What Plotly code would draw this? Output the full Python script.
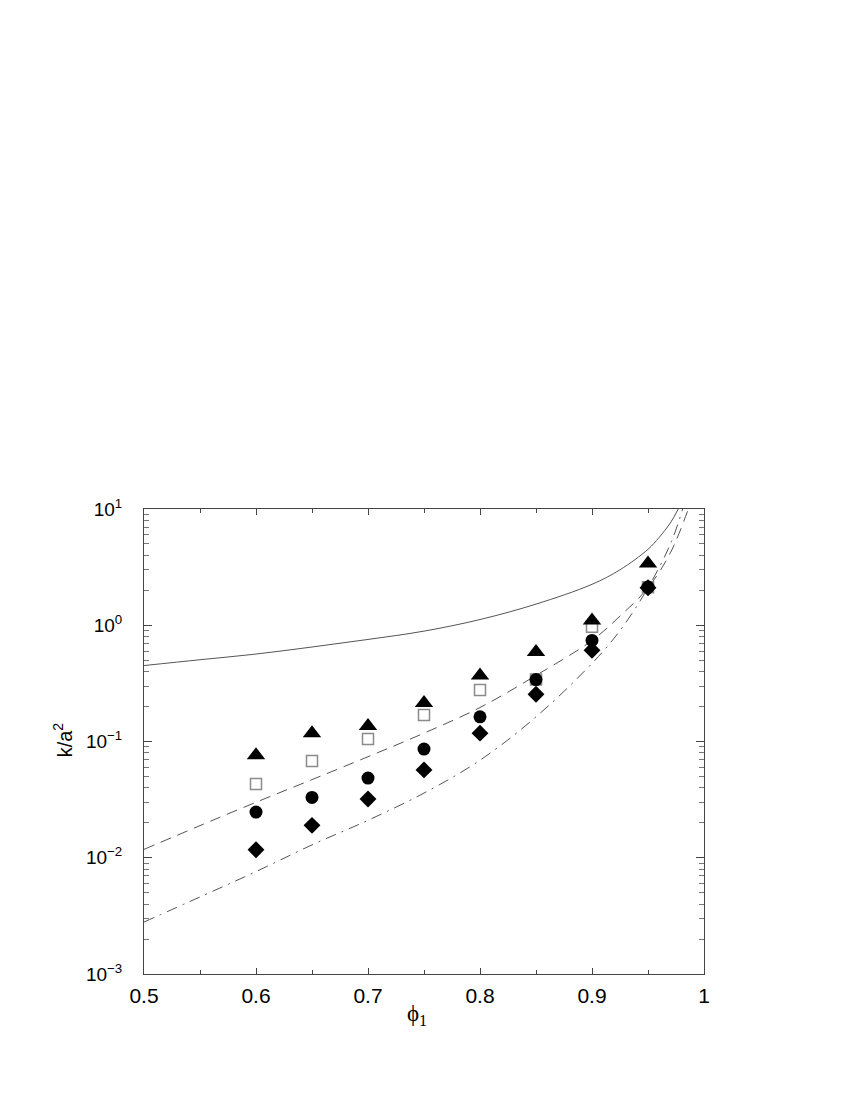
import plotly.graph_objects as go

# ---- data ----
phi_pts = [0.6, 0.65, 0.7, 0.75, 0.8, 0.85, 0.9, 0.95]
k_triangle = [0.076, 0.118, 0.136, 0.214, 0.37, 0.59, 1.10, 3.39]
k_square = [0.043, 0.068, 0.105, 0.169, 0.277, 0.341, 0.97, 2.12]
k_circle = [0.0247, 0.033, 0.0485, 0.086, 0.163, 0.341, 0.74, 2.13]
k_diamond = [0.0117, 0.019, 0.032, 0.057, 0.118, 0.255, 0.61, 2.10]

phi_solid = [0.5, 0.55, 0.6, 0.65, 0.7, 0.75, 0.8, 0.85, 0.9, 0.925, 0.95, 0.96, 0.97, 0.977]
k_solid = [0.45, 0.505, 0.565, 0.65, 0.755, 0.89, 1.12, 1.52, 2.25, 3.0, 4.5, 5.7, 7.6, 10.0]

phi_dash = [0.5, 0.55, 0.6, 0.65, 0.7, 0.75, 0.8, 0.85, 0.9, 0.925, 0.95, 0.97, 0.986]
k_dash = [0.0118, 0.0189, 0.030, 0.047, 0.074, 0.118, 0.196, 0.37, 0.74, 1.2, 2.1, 4.2, 10.0]

phi_dashdot = [0.5, 0.55, 0.6, 0.65, 0.7, 0.75, 0.8, 0.85, 0.9, 0.925, 0.95, 0.97, 0.981]
k_dashdot = [0.0028, 0.0046, 0.0076, 0.0129, 0.021, 0.036, 0.069, 0.163, 0.47, 0.9, 2.1, 5.0, 10.0]

x_ticks = [0.5, 0.6, 0.7, 0.8, 0.9, 1.0]
x_ticktext = ["0.5", "0.6", "0.7", "0.8", "0.9", "1"]
y_ticks = [1e-3, 1e-2, 1e-1, 1e0, 1e1]
y_ticktext = ["10<sup>−3</sup>", "10<sup>−2</sup>", "10<sup>−1</sup>", "10<sup>0</sup>", "10<sup>1</sup>"]
y_minor = [m * 10 ** e for e in (-3, -2, -1, 0) for m in range(2, 10)]

LINE_COL = "#555555"

fig = go.Figure()
fig.add_trace(go.Scatter(x=phi_solid, y=k_solid, mode="lines", line_shape="spline",
                         line=dict(color=LINE_COL, width=1, smoothing=1)))
fig.add_trace(go.Scatter(x=phi_dash, y=k_dash, mode="lines", line_shape="spline",
                         line=dict(color=LINE_COL, width=1, dash="11px,7px")))
fig.add_trace(go.Scatter(x=phi_dashdot, y=k_dashdot, mode="lines", line_shape="spline",
                         line=dict(color=LINE_COL, width=1, dash="11px,6px,2px,6px")))
fig.add_trace(go.Scatter(x=phi_pts, y=k_square, mode="markers",
                         marker=dict(symbol="square-open", size=11, color="#8a8a8a",
                                     line=dict(width=1.5, color="#8a8a8a"))))
fig.add_trace(go.Scatter(x=phi_pts, y=k_diamond, mode="markers",
                         marker=dict(symbol="diamond", size=13, color="black")))
fig.add_trace(go.Scatter(x=phi_pts, y=k_circle, mode="markers",
                         marker=dict(symbol="circle", size=13, color="black")))
fig.add_trace(go.Scatter(x=phi_pts, y=k_triangle, mode="markers",
                         marker=dict(symbol="triangle-up", size=16, color="black")))

axis_common = dict(showline=True, linecolor="#444444", linewidth=1, mirror="ticks",
                   ticks="inside", tickcolor="#444444", showgrid=False, zeroline=False)

fig.update_xaxes(range=[0.5, 1.0], tickmode="array", tickvals=x_ticks, ticktext=x_ticktext,
                 ticklen=6, tickwidth=1,
                 tickfont=dict(family="Liberation Sans, Arial, sans-serif", size=21, color="black"),
                 minor=dict(tickmode="array", tickvals=[0.55, 0.65, 0.75, 0.85, 0.95],
                            ticks="inside", ticklen=4, tickcolor="#444444"),
                 ticklabelstandoff=3, **axis_common)
fig.update_yaxes(type="log", range=[-3, 1], tickmode="array", tickvals=y_ticks, ticktext=y_ticktext,
                 ticklen=8, tickwidth=1,
                 tickfont=dict(family="Liberation Sans, Arial, sans-serif", size=19, color="black"),
                 minor=dict(tickmode="array", tickvals=y_minor,
                            ticks="inside", ticklen=5, tickcolor="#777777"),
                 ticklabelstandoff=17, **axis_common)

fig.update_layout(
    width=850, height=1100, autosize=False,
    margin=dict(l=136, r=154, t=501, b=134),
    paper_bgcolor="white", plot_bgcolor="white",
    showlegend=False,
    annotations=[
        dict(text="k/a<sup>2</sup>", xref="paper", yref="paper", x=-0.146, y=0.503,
             textangle=-90, showarrow=False, xanchor="center", yanchor="middle",
             font=dict(family="Liberation Sans, Arial, sans-serif", size=20, color="black")),
        dict(text="ϕ<sub>1</sub>", xref="paper", yref="paper", x=0.4875, y=-0.088,
             showarrow=False, xanchor="center", yanchor="middle",
             font=dict(family="Liberation Serif, Times New Roman, serif", size=23, color="black")),
    ],
)

fig.write_html("out.html")
